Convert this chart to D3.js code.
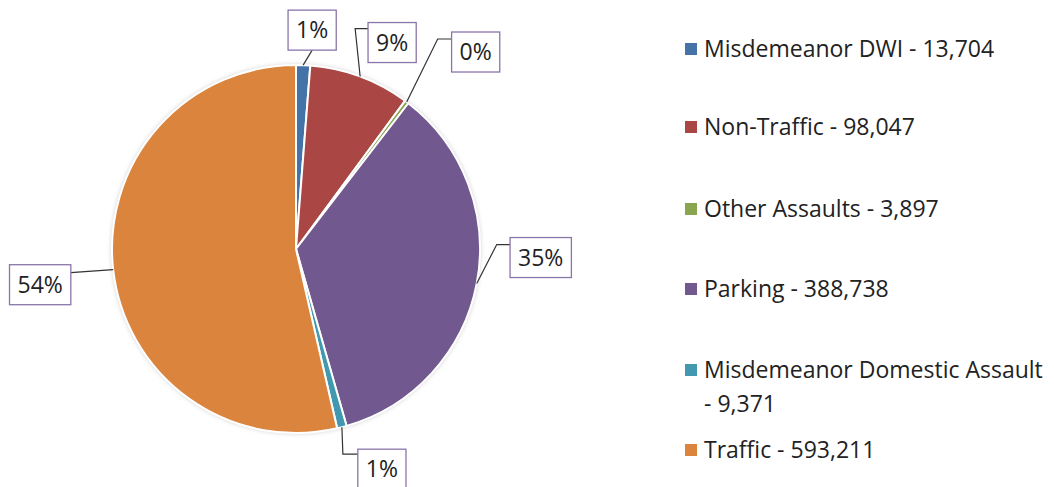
<!DOCTYPE html>
<html>
<head>
<meta charset="utf-8">
<script src="https://cdn.jsdelivr.net/npm/d3@7"></script>
<style>
  body { margin: 0; background: #fff; }
  svg { font-family: "Open Sans", Lato, sans-serif; font-variant-ligatures: none; }
</style>
</head>
<body>
<svg id="chart" width="1054" height="487"></svg>
<script>
// data
const categories = ["Misdemeanor DWI", "Non-Traffic", "Other Assaults", "Parking",
                    "Misdemeanor Domestic Assault", "Traffic"];
const values = [13704, 98047, 3897, 388738, 9371, 593211];
const colors = ["#4572a7", "#aa4643", "#89a54e", "#71588f", "#4198af", "#db843d"];
// legend lines (the long one wraps in the original)
const legendLines = [
    ["Misdemeanor DWI - 13,704"],
    ["Non-Traffic - 98,047"],
    ["Other Assaults - 3,897"],
    ["Parking - 388,738"],
    ["Misdemeanor Domestic Assault", "- 9,371"],
    ["Traffic - 593,211"]
];

const svg = d3.select("#chart");
const cx = 296, cy = 249, r = 184;

const defs = svg.append("defs");
const f = defs.append("filter").attr("id", "shadow")
    .attr("x", "-10%").attr("y", "-10%").attr("width", "120%").attr("height", "120%");
f.append("feDropShadow").attr("dx", 0).attr("dy", 0).attr("stdDeviation", 2.5)
    .attr("flood-color", "#000").attr("flood-opacity", 0.25);

const pie = d3.pie().sort(null).value(d => d);
const arcs = pie(values);
const arc = d3.arc().innerRadius(0).outerRadius(r);
const edgeArc = d3.arc().innerRadius(r).outerRadius(r);

const g = svg.append("g").attr("transform", `translate(${cx},${cy})`);

g.append("circle").attr("r", r).attr("fill", "#fff").attr("filter", "url(#shadow)");

g.selectAll("path.slice")
    .data(arcs)
    .enter()
    .append("path")
    .attr("class", "slice")
    .attr("d", arc)
    .attr("fill", (d, i) => colors[i])
    .attr("stroke", "#fff")
    .attr("stroke-width", 2)
    .attr("stroke-linejoin", "round");

// label placement: box centre and elbow, relative to the slice's edge point
const labelLayout = [
    { bx: 9,    by: -35,  elbow: null,      side: "bottom" },
    { bx: 32,   by: -34,  elbow: [-5, -48], side: "left" },
    { bx: 69,   by: -50,  elbow: [31, -63], side: "left" },
    { bx: 64,   by: -26,  elbow: [20, -39], side: "left" },
    { bx: 40,   by: 42,   elbow: [1, 27],   side: "left" },
    { bx: -73,  by: 15,   elbow: null,      side: "right" }
];

const total = d3.sum(values);
const fmtPct = v => Math.round(v / total * 100) + "%";

const labels = svg.append("g").attr("transform", `translate(${cx},${cy})`);

arcs.forEach((d, i) => {
    const [ex, ey] = edgeArc.centroid(d);
    const L = labelLayout[i];
    const bx = ex + L.bx, by = ey + L.by;

    const lg = labels.append("g");
    const txt = lg.append("text")
        .attr("x", bx)
        .attr("y", by)
        .attr("dy", "0.36em")
        .attr("text-anchor", "middle")
        .attr("font-size", 23)
        .attr("fill", "#222")
        .text(fmtPct(d.value));
    const w = txt.node().getComputedTextLength() + 16;
    const h = 40;
    lg.insert("rect", "text")
        .attr("x", bx - w / 2)
        .attr("y", by - h / 2)
        .attr("width", w)
        .attr("height", h)
        .attr("fill", "#fff")
        .attr("stroke", "#8a75aa")
        .attr("stroke-width", 1.3);

    let end;
    if (L.side === "bottom") end = [bx, by + h / 2];
    else if (L.side === "right") end = [bx + w / 2, by - 12];
    else end = [bx - w / 2, ey + (L.elbow ? L.elbow[1] : 0)];
    const pts = [[ex, ey]];
    if (L.elbow) pts.push([ex + L.elbow[0], ey + L.elbow[1]]);
    pts.push(end);
    lg.insert("path", "rect")
        .attr("d", d3.line()(pts))
        .attr("fill", "none")
        .attr("stroke", "#333")
        .attr("stroke-width", 1.2);
});

// legend
const legend = svg.append("g").attr("transform", "translate(685,0)");
const legendBaselines = [57, 135, 217, 297, 378, 458];
const items = legend.selectAll("g")
    .data(categories)
    .enter()
    .append("g")
    .attr("transform", (d, i) => `translate(0,${legendBaselines[i]})`);

items.append("rect")
    .attr("x", 0)
    .attr("y", -14)
    .attr("width", 12)
    .attr("height", 12)
    .attr("fill", (d, i) => colors[i]);

items.each(function(d, i) {
    d3.select(this).selectAll("text")
        .data(legendLines[i])
        .enter()
        .append("text")
        .attr("x", 19)
        .attr("y", (t, j) => j * 34)
        .attr("font-size", 23)
        .attr("fill", "#222")
        .text(t => t);
});
</script>
</body>
</html>
